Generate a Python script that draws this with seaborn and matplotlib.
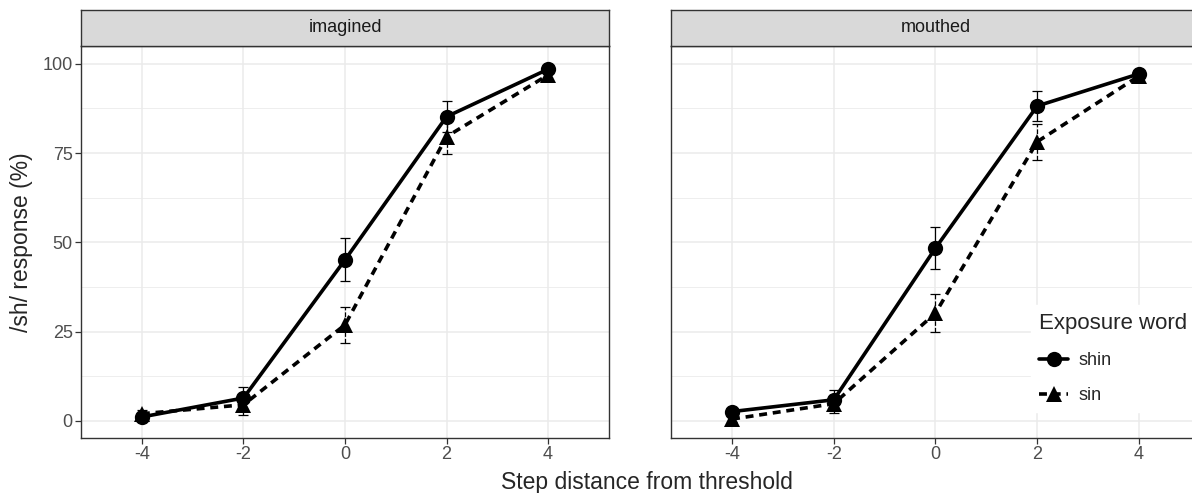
import numpy as np
import pandas as pd
import matplotlib
matplotlib.use("Agg")
import matplotlib.pyplot as plt
import seaborn as sns
from matplotlib.ticker import MultipleLocator

# --- DATA ---
steps = [-4, -2, 0, 2, 4]
conditions = ["imagined", "mouthed"]
words = ["shin", "sin"]

imagined_shin = [1.1, 6.4, 45.1, 85.2, 98.5]
imagined_shin_se = [0.8, 3.0, 6.0, 4.4, 1.0]
imagined_sin = [2.0, 4.5, 26.9, 79.6, 96.9]
imagined_sin_se = [1.0, 2.8, 5.1, 4.8, 1.3]
mouthed_shin = [2.6, 5.9, 48.4, 88.2, 97.2]
mouthed_shin_se = [1.0, 2.8, 6.0, 4.1, 1.2]
mouthed_sin = [0.5, 4.8, 30.2, 78.2, 96.6]
mouthed_sin_se = [0.8, 2.5, 5.3, 5.0, 1.3]

series = {
    ("imagined", "shin"): (imagined_shin, imagined_shin_se),
    ("imagined", "sin"): (imagined_sin, imagined_sin_se),
    ("mouthed", "shin"): (mouthed_shin, mouthed_shin_se),
    ("mouthed", "sin"): (mouthed_sin, mouthed_sin_se),
}
rows = []
for (cond, word), (vals, ses) in series.items():
    for s, v, e in zip(steps, vals, ses):
        rows.append({"condition": cond, "word": word, "step": s, "pct": v, "se": e})
df = pd.DataFrame(rows)

# --- STYLE ---
sns.set_style("white")
plt.rcParams["font.family"] = ["Liberation Sans", "DejaVu Sans"]
plt.rcParams["axes.unicode_minus"] = False

W, H = 1192, 493
fig = plt.figure(figsize=(W / 100, H / 100), dpi=100)


def px(x0, y0, x1, y1):
    return [x0 / W, 1 - y1 / H, (x1 - x0) / W, (y1 - y0) / H]


panel_x = [(81, 609), (671, 1200)]
TOP, BOT, STRIP_TOP = 46, 438, 9.5
DARK = "#333333"

for i, cond in enumerate(conditions):
    x0, x1 = panel_x[i]
    ax = fig.add_axes(px(x0, TOP, x1, BOT))
    sub = df[df.condition == cond]

    # error bars (dashed for sin)
    for word, ls in zip(words, ["-", "--"]):
        s = sub[sub.word == word]
        eb = ax.errorbar(s.step, s.pct, yerr=s.se, fmt="none", ecolor="black",
                         elinewidth=0.9, capsize=3.6, capthick=0.9, zorder=2)
        eb[2][0].set_linestyle(ls)

    sns.lineplot(data=sub, x="step", y="pct", hue="word", style="word",
                 palette={"shin": "black", "sin": "black"},
                 markers={"shin": "o", "sin": "^"},
                 dashes={"shin": "", "sin": (2.2, 1.6)},
                 linewidth=2.6, markersize=11, markeredgewidth=0,
                 errorbar=None, legend=(i == 1), ax=ax, zorder=3)

    ax.set_xlim(-5.2, 5.2)
    ax.set_ylim(-4.8, 105)
    ax.set_xticks(steps)
    ax.set_yticks([0, 25, 50, 75, 100])
    ax.yaxis.set_minor_locator(MultipleLocator(12.5))
    ax.set_axisbelow(True)
    ax.grid(which="major", color="#EBEBEB", lw=1.1)
    ax.grid(which="minor", axis="y", color="#EBEBEB", lw=0.6)
    ax.tick_params(which="minor", length=0)
    ax.tick_params(which="major", length=4, width=0.9, color=DARK,
                   labelcolor="#4D4D4D", labelsize=13, pad=2,
                   bottom=True, left=True)
    ax.set_xlabel("")
    ax.set_ylabel("")
    for sp in ax.spines.values():
        sp.set_visible(True)
        sp.set_color(DARK)
        sp.set_linewidth(1.0)
    if i == 1:
        ax.tick_params(axis="y", left=False, labelleft=False)
        handles, labels = ax.get_legend_handles_labels()
        ax.get_legend().remove()
        fig.legend(handles, labels, title="Exposure word", loc="upper left",
                   bbox_to_anchor=(1022 / W, 1 - 296 / H), frameon=True,
                   facecolor="white", edgecolor="white", fancybox=False,
                   framealpha=1, fontsize=13, title_fontsize=16,
                   handlelength=1.6, borderpad=0.45, labelspacing=1.0,
                   handletextpad=0.6, alignment="left")

    # facet strip
    sax = fig.add_axes(px(x0, STRIP_TOP, x1, TOP))
    sax.set_facecolor("#D9D9D9")
    sax.set_xticks([])
    sax.set_yticks([])
    for sp in sax.spines.values():
        sp.set_visible(True)
        sp.set_color(DARK)
        sp.set_linewidth(1.0)
    sax.text(0.5, 0.5, cond, ha="center", va="center", fontsize=13,
             color="#1A1A1A", transform=sax.transAxes)

fig.text(647 / W, 1 - 483 / H, "Step distance from threshold",
         ha="center", va="center", fontsize=16.5)
fig.text(22 / W, 1 - 242 / H, "/sh/ response (%)", rotation=90,
         ha="center", va="center", fontsize=16.5)

fig.savefig("out.png", dpi=100)
